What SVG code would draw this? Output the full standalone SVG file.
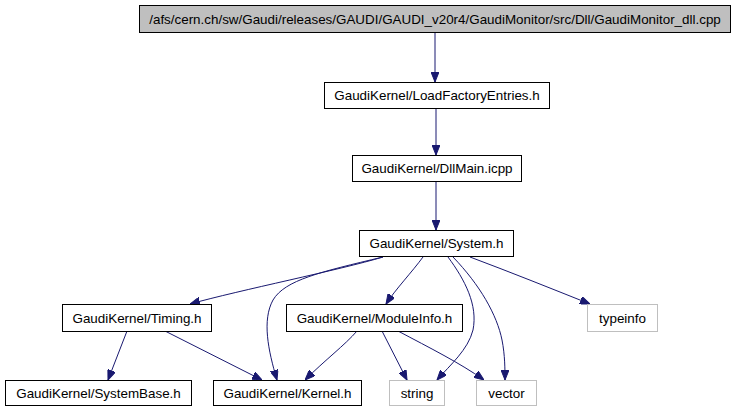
<svg xmlns="http://www.w3.org/2000/svg" width="737" height="410" viewBox="0 0 737 410">
<style>
.box{fill:#ffffff;stroke:#000000;stroke-width:1}
.root{fill:#bfbfbf;stroke:#000000;stroke-width:1}
.ext{fill:#ffffff;stroke:#bfbfbf;stroke-width:1}
text{font-family:"Liberation Sans",Arial,sans-serif;font-size:13.4px;fill:#000000;text-anchor:middle}
.edge{fill:none;stroke:#191970;stroke-width:1}
</style>
<defs>
<marker id="arr" viewBox="0 0 10 8" refX="10" refY="4" markerWidth="10" markerHeight="8" markerUnits="userSpaceOnUse" orient="auto">
<path d="M0,0 L10,4 L0,8 z" fill="#191970" stroke="#191970"/>
</marker>
</defs>
<rect width="737" height="410" fill="#ffffff"/>
<g id="edges">
<path class="edge" marker-end="url(#arr)" d="M435,33 L435,82"/>
<path class="edge" marker-end="url(#arr)" d="M436,108 L436,155"/>
<path class="edge" marker-end="url(#arr)" d="M436,181 L436,230"/>
<path class="edge" marker-end="url(#arr)" d="M383,257 C340,270 240,290 190,304"/>
<path class="edge" marker-end="url(#arr)" d="M383,257 C320,272 285,280 273,300 C262,320 268,350 277,380"/>
<path class="edge" marker-end="url(#arr)" d="M423,257 C412,272 395,290 386,304"/>
<path class="edge" marker-end="url(#arr)" d="M448,257 C465,280 478,305 473,330 C468,350 450,365 437,380"/>
<path class="edge" marker-end="url(#arr)" d="M453,257 C480,285 497,315 502,340 C505,355 505,370 505,380"/>
<path class="edge" marker-end="url(#arr)" d="M470,257 C510,272 550,288 590,304"/>
<path class="edge" marker-end="url(#arr)" d="M127,331 L108,380"/>
<path class="edge" marker-end="url(#arr)" d="M165,331 L262,380"/>
<path class="edge" marker-end="url(#arr)" d="M357,331 C345,345 325,360 305,380"/>
<path class="edge" marker-end="url(#arr)" d="M382,331 L407,380"/>
<path class="edge" marker-end="url(#arr)" d="M398,331 C430,348 460,363 484,380"/>
</g>
<g id="node_root"><rect class="root" x="139.5" y="5.5" width="591" height="27"/><text x="435" y="23.5">/afs/cern.ch/sw/Gaudi/releases/GAUDI/GAUDI_v20r4/GaudiMonitor/src/Dll/GaudiMonitor_dll.cpp</text></g>
<g id="node_lfe"><rect class="box" x="324.5" y="82.5" width="225" height="26"/><text x="437" y="100">GaudiKernel/LoadFactoryEntries.h</text></g>
<g id="node_dllmain"><rect class="box" x="352.5" y="155.5" width="169" height="26"/><text x="437" y="173">GaudiKernel/DllMain.icpp</text></g>
<g id="node_system"><rect class="box" x="359.5" y="230.5" width="154" height="26"/><text x="436.5" y="248">GaudiKernel/System.h</text></g>
<g id="node_timing"><rect class="box" x="62.5" y="304.5" width="149" height="27"/><text x="137" y="322.5">GaudiKernel/Timing.h</text></g>
<g id="node_moduleinfo"><rect class="box" x="286.5" y="304.5" width="176" height="27"/><text x="374.5" y="322.5">GaudiKernel/ModuleInfo.h</text></g>
<g id="node_typeinfo"><rect class="ext" x="587.5" y="304.5" width="70" height="27"/><text x="622.5" y="322.5">typeinfo</text></g>
<g id="node_systembase"><rect class="box" x="5.5" y="380.5" width="186" height="25"/><text x="98.5" y="397.5">GaudiKernel/SystemBase.h</text></g>
<g id="node_kernel"><rect class="box" x="213.5" y="380.5" width="148" height="25"/><text x="287.5" y="397.5">GaudiKernel/Kernel.h</text></g>
<g id="node_string"><rect class="ext" x="389.5" y="380.5" width="55" height="25"/><text x="417" y="397.5">string</text></g>
<g id="node_vector"><rect class="ext" x="476.5" y="380.5" width="60" height="25"/><text x="506.5" y="397.5">vector</text></g>
</svg>
